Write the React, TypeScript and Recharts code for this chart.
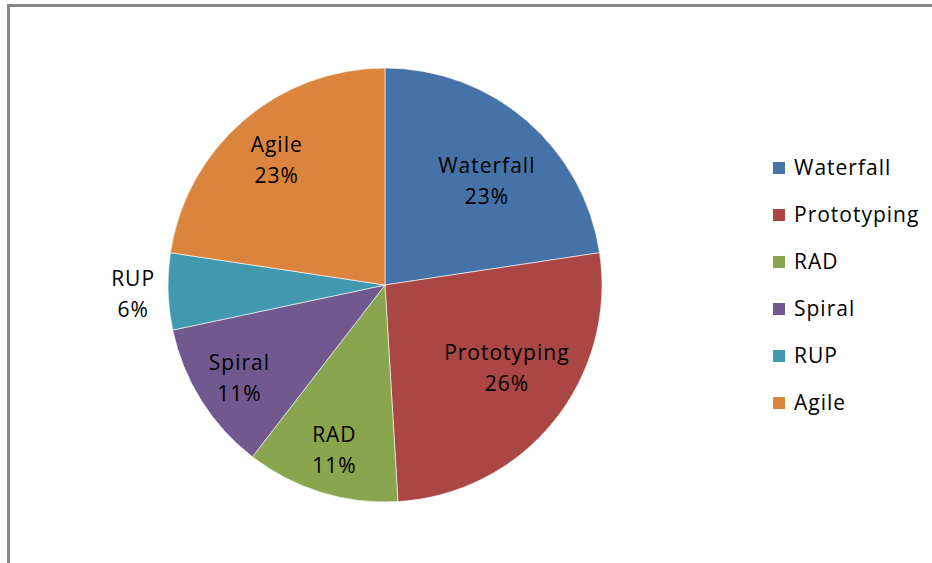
import React from "react";
import { PieChart, Pie, Cell, Legend } from "recharts";

const categories = ["Waterfall", "Prototyping", "RAD", "Spiral", "RUP", "Agile"];
const shares = [22.6, 26.4, 11.4, 11.2, 5.7, 22.6];
const colors = ["#4572A7", "#AA4643", "#89A54E", "#71588F", "#4198AF", "#DB843D"];

const data = categories.map((name, i) => ({ name, value: shares[i] }));

const FONT = "'Open Sans', sans-serif";
const labelRadius: Record<string, number> = {
  Waterfall: 146,
  Prototyping: 147,
  RAD: 172,
  Spiral: 172,
  RUP: 252,
  Agile: 166,
};
const labelAngleShift: Record<string, number> = {
  Waterfall: -3.5,
  Prototyping: 5,
};

const RADIAN = Math.PI / 180;

const renderLabel = (props: any) => {
  const { cx, cy, midAngle, name, percent } = props;
  const r = labelRadius[name] ?? 150;
  const a = midAngle + (labelAngleShift[name] ?? 0);
  const x = cx + r * Math.cos(-a * RADIAN);
  const y = cy + r * Math.sin(-a * RADIAN);
  return (
    <text
      x={x}
      y={y}
      textAnchor="middle"
      fill="#000"
      fontFamily={FONT}
      fontSize={21}
      style={{ letterSpacing: 1 }}
    >
      <tspan x={x} dy={-7}>{name}</tspan>
      <tspan x={x} dy={31}>{`${Math.round(percent * 100)}%`}</tspan>
    </text>
  );
};

const renderLegend = () => (
  <div style={{ fontFamily: FONT, fontSize: 21, color: "#000", letterSpacing: 1 }}>
    {categories.map((c, i) => (
      <div
        key={c}
        style={{ display: "flex", alignItems: "center", height: 47 }}
      >
        <span
          style={{
            display: "inline-block",
            width: 12,
            height: 12,
            background: colors[i],
            marginRight: 9,
          }}
        />
        <span style={{ lineHeight: "47px" }}>{c}</span>
      </div>
    ))}
  </div>
);

export default function App() {
  return (
    <div style={{ position: "absolute", left: 0, top: 0, width: 932, height: 563, background: "#fff", overflow: "hidden" }}>
      <div style={{ position: "absolute", left: 7, top: 4, width: 3, height: 559, background: "#878787" }} />
      <div style={{ position: "absolute", left: 7, top: 4, width: 925, height: 3, background: "#878787" }} />
      <PieChart width={932} height={563} margin={{ top: 0, right: 0, bottom: 0, left: 0 }}>
        <Pie
          data={data}
          dataKey="value"
          nameKey="name"
          cx={385}
          cy={285}
          outerRadius={217}
          startAngle={90}
          endAngle={-270}
          stroke="#ffffff"
          strokeWidth={0.6}
          label={renderLabel}
          labelLine={false}
          isAnimationActive={false}
        >
          {data.map((d, i) => (
            <Cell key={d.name} fill={colors[i]} />
          ))}
        </Pie>
        <Legend
          layout="vertical"
          align="right"
          verticalAlign="top"
          content={renderLegend}
          wrapperStyle={{ left: 773, top: 144, width: 160 }}
        />
      </PieChart>
    </div>
  );
}
